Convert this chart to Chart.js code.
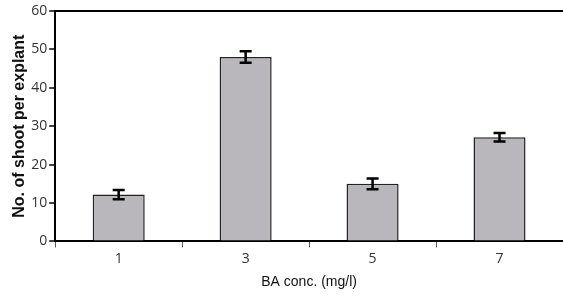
<!DOCTYPE html>
<html>
<head>
<meta charset="utf-8">
<script src="https://cdn.jsdelivr.net/npm/chart.js@4"></script>
<style>
  html, body { margin: 0; padding: 0; background: #fff; }
  #wrap { width: 563px; height: 298px; position: relative; }
</style>
</head>
<body>
<div id="wrap"><canvas id="shootChart"></canvas></div>
<script>
// data
const concLabels = ['1', '3', '5', '7'];
const shootMeans = [12.2, 48.0, 15.0, 27.1];
const shootErrors = [1.2, 1.5, 1.4, 1.1];
const yTicks = [0, 10, 20, 30, 40, 50, 60];

// draws the +/- error whiskers on top of each bar
const errorBars = {
    id: 'errorBars',
    afterDatasetsDraw(chart) {
        const ctx = chart.ctx;
        const yScale = chart.scales.y;
        const meta = chart.getDatasetMeta(0);
        ctx.save();
        ctx.strokeStyle = '#000';
        ctx.lineWidth = 2.5;
        meta.data.forEach((bar, i) => {
            const x = bar.x;
            const top = yScale.getPixelForValue(shootMeans[i] + shootErrors[i]);
            const bottom = yScale.getPixelForValue(shootMeans[i] - shootErrors[i]);
            const cap = 6;
            ctx.beginPath();
            ctx.moveTo(x, top);
            ctx.lineTo(x, bottom);
            ctx.moveTo(x - cap, top);
            ctx.lineTo(x + cap, top);
            ctx.moveTo(x - cap, bottom);
            ctx.lineTo(x + cap, bottom);
            ctx.stroke();
        });
        ctx.restore();
    }
};

const ctx = document.getElementById('shootChart').getContext('2d');

const shootChart = new Chart(ctx, {
    type: 'bar',
    data: {
        labels: concLabels,
        datasets: [{
            label: 'No. of shoot per explant',
            data: shootMeans,
            backgroundColor: '#b9b7bc',
            borderColor: '#222',
            borderWidth: 1.5,
            barPercentage: 0.41,
            categoryPercentage: 1.0
        }]
    },
    options: {
        responsive: true,
        maintainAspectRatio: false,
        animation: false,
        layout: {
            padding: { top: 11, right: -3, left: 10, bottom: 7 }
        },
        plugins: {
            legend: { display: false },
            tooltip: { enabled: false }
        },
        scales: {
            x: {
                offset: true,
                grid: {
                    offset: true,
                    drawOnChartArea: false,
                    tickLength: 6,
                    tickColor: '#555',
                    tickWidth: 1
                },
                border: { color: '#000', width: 2 },
                ticks: {
                    color: '#333',
                    padding: 3,
                    font: { family: 'Open Sans', size: 14 }
                },
                title: {
                    display: true,
                    text: 'BA conc. (mg/l)',
                    color: '#111',
                    padding: { top: 4, bottom: 0 },
                    font: { family: 'Liberation Sans', size: 14 }
                }
            },
            y: {
                min: 0,
                max: 60,
                afterBuildTicks: (axis) => {
                    axis.ticks = yTicks.map(v => ({ value: v }));
                },
                grid: {
                    // only the top frame line is drawn across the plot
                    color: (c) => (c.tick && c.tick.value === 60 ? '#000' : 'rgba(0,0,0,0)'),
                    lineWidth: 2,
                    tickLength: 6,
                    tickColor: '#000',
                    tickWidth: 1.5
                },
                border: { color: '#000', width: 2 },
                ticks: {
                    color: '#333',
                    padding: 2,
                    font: { family: 'Open Sans', size: 14 }
                },
                title: {
                    display: true,
                    text: 'No. of shoot per explant',
                    color: '#111',
                    padding: { top: 0, bottom: 0 },
                    font: { family: 'Liberation Sans', size: 16, weight: 'bold' }
                }
            }
        }
    },
    plugins: [errorBars]
});
</script>
</body>
</html>
